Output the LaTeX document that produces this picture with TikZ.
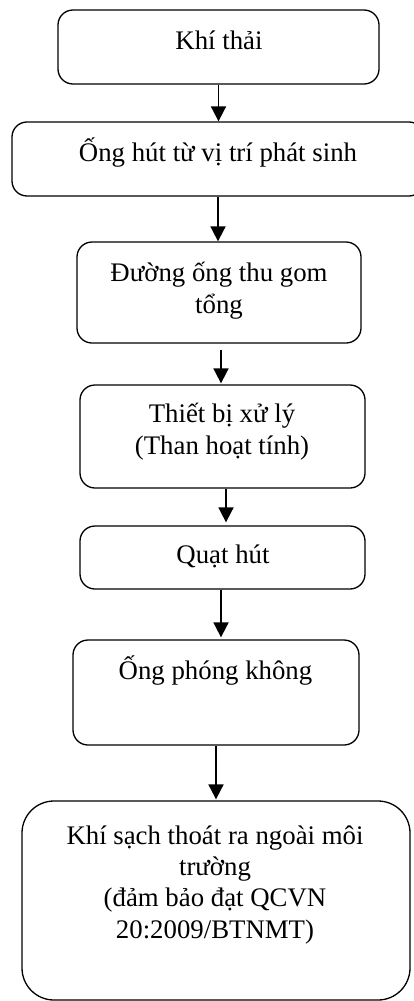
\documentclass[tikz,border=0pt]{standalone}
\usepackage{fontspec}
\setmainfont{Liberation Serif}
\usetikzlibrary{arrows.meta}
\begin{document}
\begin{tikzpicture}[x=1pt,y=-1pt,
  box/.style={draw, line width=1.3pt, rounded corners=15pt, inner sep=0pt},
  txt/.style={font=\fontsize{26.8}{31.2}\selectfont, align=center, inner sep=0pt, anchor=base},
  arr/.style={line width=1.8pt, -{Triangle[length=15pt,width=15pt]}}]
\useasboundingbox (0,0) rectangle (414,1001);
\node[box, minimum width=321pt, minimum height=74pt] (b1) at (218.5,47) {};
\node[box, minimum width=412pt, minimum height=74pt] (b2) at (218,159) {};
\node[box, minimum width=284pt, minimum height=101pt] (b3) at (219,292.5) {};
\node[box, minimum width=285pt, minimum height=103pt] (b4) at (222.5,436.5) {};
\node[box, minimum width=285pt, minimum height=63pt] (b5) at (222.5,557.5) {};
\node[box, minimum width=286pt, minimum height=105pt] (b6) at (216,692.5) {};
\node[box, rounded corners=32pt, minimum width=388pt, minimum height=199pt] (b7) at (216,900.5) {};
\node[txt] (t1) at (219,49.3) {Khí thải};
\node[txt] (t2) at (218,161) {Ống hút từ vị trí phát sinh};
\node[txt] (t3) at (219,313) {Đường ống thu gom\\tổng};
\node[txt] (t4) at (222,454) {Thiết bị xử lý\\(Than hoạt tính)};
\node[txt] (t5) at (223,563) {Quạt hút};
\node[txt] (t6) at (215.5,679) {Ống phóng không};
\node[txt] (t7) at (215,938) {Khí sạch thoát ra ngoài môi\\trường\\(đảm bảo đạt QCVN\\20:2009/BTNMT)};
\draw[arr] (b1.south) -- (b1.south |- b2.north);
\draw[arr] (b2.south) -- (b2.south |- b3.north);
\draw[arr] ([xshift=2pt,yshift=-6pt]b3.south) -- ([xshift=-1.5pt,yshift=1pt]b4.north);
\draw[arr] ([xshift=3.5pt]b4.south) -- ([xshift=3.5pt,yshift=3pt]b5.north);
\draw[arr] ([xshift=-1.5pt]b5.south) -- ([xshift=5pt,yshift=2pt]b6.north);
\draw[arr] (b6.south) -- ([yshift=1pt]b7.north);
\end{tikzpicture}
\end{document}
